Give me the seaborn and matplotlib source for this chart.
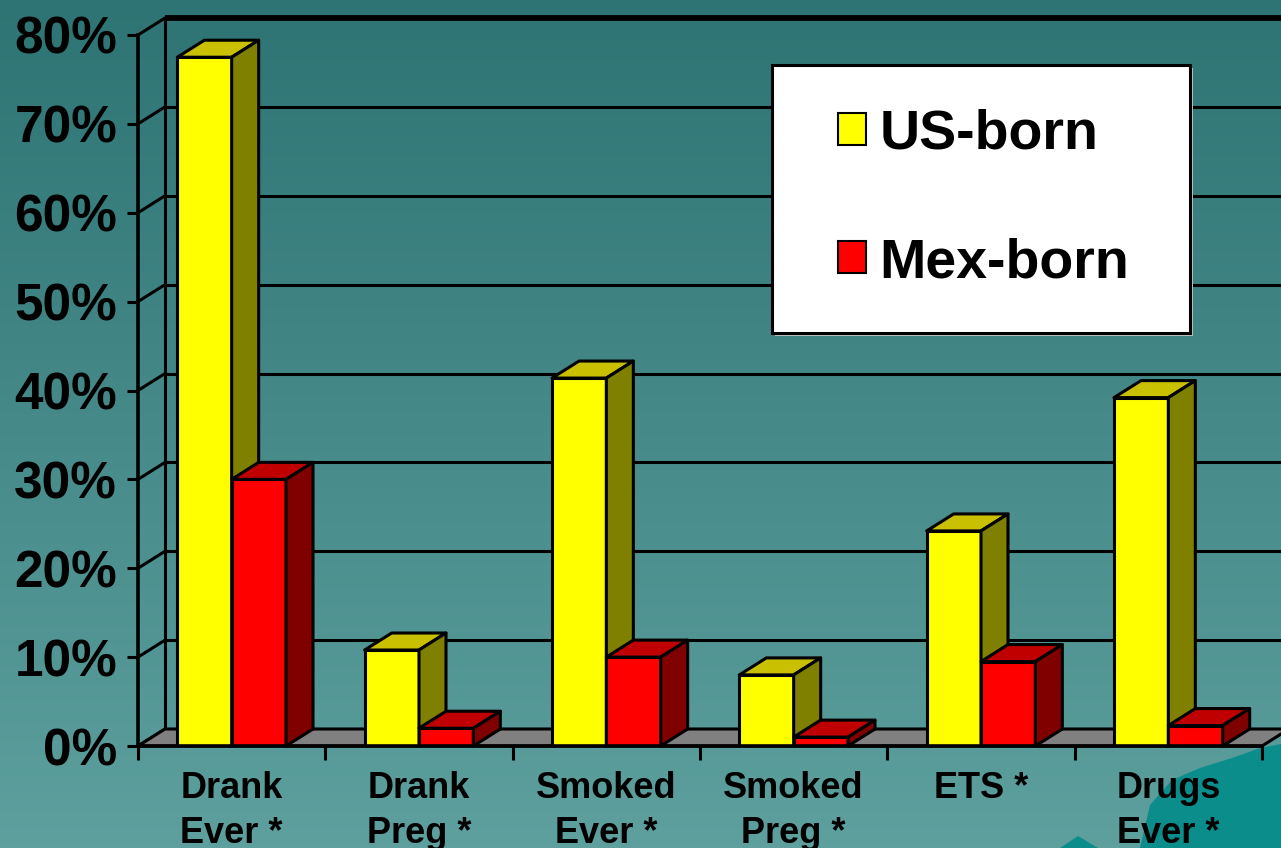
import numpy as np
import pandas as pd
import matplotlib
matplotlib.use("Agg")
import matplotlib.pyplot as plt
import seaborn as sns
from matplotlib.patches import Polygon, Rectangle, Patch
from matplotlib.ticker import FixedLocator

# ---------------- data ----------------
categories = ["Drank\nEver *", "Drank\nPreg *", "Smoked\nEver *", "Smoked\nPreg *", "ETS *", "Drugs\nEver *"]
us_born = [77.5, 10.8, 41.4, 8, 24.2, 39.2]
mex_born = [30, 2, 10, 1, 9.5, 2.3]
groups = ["US-born", "Mex-born"]
yticks = [0, 10, 20, 30, 40, 50, 60, 70, 80]
ytick_labels = ["0%", "10%", "20%", "30%", "40%", "50%", "60%", "70%", "80%"]

df = pd.DataFrame({
    "cat": categories * 2,
    "val": us_born + mex_born,
    "group": [groups[0]] * len(categories) + [groups[1]] * len(categories),
})

front_colors = {"US-born": "#FFFF00", "Mex-born": "#FF0000"}
top_colors = {"US-born": "#C8C000", "Mex-born": "#C00000"}
side_colors = {"US-born": "#808000", "Mex-born": "#800000"}
FONT = "Liberation Sans"

sns.set_theme(style="white")
plt.rcParams["font.family"] = [FONT, "DejaVu Sans"]
plt.rcParams["text.color"] = "black"

W, H = 1281, 848
fig = plt.figure(figsize=(W / 100, H / 100), dpi=100)

# background gradient
bg = fig.add_axes([0, 0, 1, 1], zorder=-10)
top_c = np.array([46, 116, 116]) / 255
bot_c = np.array([93, 160, 158]) / 255
t = np.linspace(0, 1, 256)[:, None]
grad = top_c[None, None, :] * (1 - t[..., None]) + bot_c[None, None, :] * t[..., None]
grad = np.repeat(grad, 4, axis=1)
bg.imshow(grad, aspect="auto", extent=[0, 1, 0, 1], origin="upper")
# decorative blob bottom-right
blob = [(1140, 848), (1150, 805), (1172, 780), (1200, 768), (1232, 758), (1260, 748), (1281, 744), (1281, 848)]
bg.add_patch(Polygon([(x / W, 1 - y / H) for x, y in blob], closed=True, facecolor="#0B8E8B", edgecolor="none"))
blob2 = [(1060, 848), (1078, 836), (1098, 848)]
bg.add_patch(Polygon([(x / W, 1 - y / H) for x, y in blob2], closed=True, facecolor="#0B8E8B", edgecolor="none"))
bg.set_xlim(0, 1)
bg.set_ylim(0, 1)
bg.axis("off")

# main axes (front plane)
x_left, x_right, y_zero, y_top = 138, 1262, 746, 35
ax = fig.add_axes([x_left / W, 1 - y_zero / H, (x_right - x_left) / W, (y_zero - y_top) / H])
ax.set_facecolor("none")

sns.barplot(data=df, x="cat", y="val", hue="group", palette=front_colors, width=0.58,
            edgecolor="black", linewidth=2.2, saturation=1, legend=False, ax=ax, errorbar=None)
ax.set_xlim(-0.5, len(categories) - 0.5)
ax.set_ylim(0, 80)

# depth offset in data units from pixel offset
DX_PX, DY_PX = 27, 17
p0 = ax.transData.transform((0, 0))
p1 = ax.transData.transform((1, 1))
dx = DX_PX / (p1[0] - p0[0])
dy = DY_PX / (p1[1] - p0[1])

xl0, xl1 = ax.get_xlim()
lw = 2.2
# back wall gridlines and left wall
for yt in yticks:
    ax.plot([xl0 + dx, xl1 + dx + 1], [yt + dy, yt + dy], color="black",
            lw=(4.2 if yt == yticks[-1] else lw), clip_on=False, zorder=0.5, solid_capstyle="butt")
    ax.plot([xl0, xl0 + dx], [yt, yt + dy], color="black", lw=lw, clip_on=False, zorder=0.5)
ax.plot([xl0 + dx, xl0 + dx], [dy, yticks[-1] + dy], color="black", lw=lw, clip_on=False, zorder=0.5)

# floor
floor = Polygon([(xl0, 0), (xl1, 0), (xl1 + dx, dy), (xl0 + dx, dy)], closed=True,
                facecolor="#808080", edgecolor="black", lw=lw, clip_on=False, zorder=1)
ax.add_patch(floor)

# 3D faces for bars
bars = [p for p in ax.patches if isinstance(p, Rectangle)]
for p in bars:
    fc = matplotlib.colors.to_hex(p.get_facecolor())
    g = "US-born" if fc.lower() == "#ffff00" else "Mex-born"
    z = 3 if g == "US-born" else 4
    x0, w, h = p.get_x(), p.get_width(), p.get_height()
    p.set_zorder(z)
    ax.add_patch(Polygon([(x0, h), (x0 + w, h), (x0 + w + dx, h + dy), (x0 + dx, h + dy)], closed=True,
                         facecolor=top_colors[g], edgecolor="black", lw=lw, clip_on=False, zorder=z,
                         joinstyle="round"))
    ax.add_patch(Polygon([(x0 + w, 0), (x0 + w + dx, dy), (x0 + w + dx, h + dy), (x0 + w, h)], closed=True,
                         facecolor=side_colors[g], edgecolor="black", lw=lw, clip_on=False, zorder=z,
                         joinstyle="round"))

# spines
for s in ["top", "right"]:
    ax.spines[s].set_visible(False)
for s in ["left", "bottom"]:
    ax.spines[s].set_color("black")
    ax.spines[s].set_linewidth(2.6)
    ax.spines[s].set_zorder(5)

ax.set_yticks(yticks)
ax.set_yticklabels(ytick_labels, fontsize=37, fontweight="bold", color="black")
ax.tick_params(axis="y", length=8, width=2.2, color="black", pad=7, left=True)
ax.set_xticks(range(len(categories)))
ax.set_xticklabels(categories, fontsize=26, fontweight="bold", color="black", linespacing=1.36)
ax.tick_params(axis="x", which="major", length=0, pad=18)
ax.xaxis.set_minor_locator(FixedLocator(np.arange(xl0, xl1 + 0.01, 1.0)))
ax.tick_params(axis="x", which="minor", length=10, width=2.2, color="black", bottom=True)
ax.set_xlabel("")
ax.set_ylabel("")
ax.grid(False)

# legend box
lx0, ly0, lx1, ly1 = 772, 65, 1190, 333
fig.patches.append(Rectangle((lx0 / W + 0.002, 1 - ly1 / H - 0.003), (lx1 - lx0) / W, (ly1 - ly0) / H,
                             transform=fig.transFigure, facecolor="#C0C0C0", edgecolor="none", zorder=9))
fig.patches.append(Rectangle((lx0 / W, 1 - ly1 / H), (lx1 - lx0) / W, (ly1 - ly0) / H,
                             transform=fig.transFigure, facecolor="white", edgecolor="black", lw=2.2, zorder=10))
handles = [Patch(facecolor=front_colors[g], edgecolor="black", lw=1.5) for g in groups]
leg = fig.legend(handles, groups, loc="center left", bbox_to_anchor=(838 / W, 1 - 199 / H),
                 frameon=False, prop={"family": FONT, "weight": "bold", "size": 40},
                 handlelength=0.5, handleheight=0.5, handletextpad=0.25, labelspacing=1.37,
                 borderpad=0, borderaxespad=0, labelcolor="black")
leg.set_zorder(11)

fig.savefig("out.png", dpi=100)
